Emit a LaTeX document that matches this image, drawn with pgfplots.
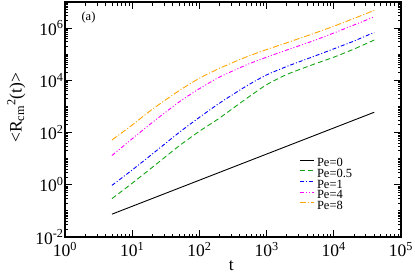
\documentclass[border=0pt]{standalone}
\usepackage{fontspec}
\setmainfont{Liberation Serif}
\usepackage{pgfplots}
\pgfplotsset{compat=1.18}
\usepackage{pgfplotstable}
\definecolor{cgreen}{RGB}{20,165,20}
\definecolor{cblue}{RGB}{0,0,255}
\definecolor{cmag}{RGB}{255,0,255}
\definecolor{corange}{RGB}{255,165,0}
\pgfplotstableread{
t      p0     p05     p1      p4      p8
5      0.075  0.295   0.95    13.2    52
10     0.15   1.15    3.7     58      195
20     0.3    4.7     15.2    245     787
50     0.75   31      101     1490    4040
100    1.5    112     382     4800    12000
200    3.0    363     1350    13400   29000
500    7.5    2000    6050    39000   79000
1000   15     6800    16100   77000   151000
2000   30     16800   34000   145000  275000
5000   75     41000   82000   330000  620000
10000  150    77000   161000  650000  1180000
20000  300    158000  320000  1320000 2350000
40000  600    350000  690000  2700000 4800000
}\datatable
\begin{document}
\begin{tikzpicture}
\useasboundingbox (-65pt,-40pt) rectangle (350pt,237pt);
\begin{axis}[
  scale only axis, width=336pt, height=235pt,
  xmode=log, ymode=log,
  xmin=1, xmax=1e5, ymin=1e-2, ymax=1e7,
  xtick={1,10,100,1000,10000,100000},
  xticklabels={10\textsuperscript{0},10\textsuperscript{1},10\textsuperscript{2},10\textsuperscript{3},10\textsuperscript{4},10\textsuperscript{5}},
  ytick={1e-2,1,1e2,1e4,1e6},
  yticklabels={10\textsuperscript{-2},10\textsuperscript{0},10\textsuperscript{2},10\textsuperscript{4},10\textsuperscript{6}},
  minor ytick={2e-2,3e-2,4e-2,5e-2,6e-2,7e-2,8e-2,9e-2,
    1e-1,2e-1,3e-1,4e-1,5e-1,6e-1,7e-1,8e-1,9e-1,
    2,3,4,5,6,7,8,9,10,20,30,40,50,60,70,80,90,
    200,300,400,500,600,700,800,900,1e3,2e3,3e3,4e3,5e3,6e3,7e3,8e3,9e3,
    2e4,3e4,4e4,5e4,6e4,7e4,8e4,9e4,1e5,2e5,3e5,4e5,5e5,6e5,7e5,8e5,9e5,
    2e6,3e6,4e6,5e6,6e6,7e6,8e6,9e6},
  tick align=inside,
  major tick length=7pt, minor tick length=3.5pt,
  every tick/.style={black, line width=0.8pt},
  axis line style={line width=1.1pt},
  ticklabel style={font=\fontsize{17.5}{20}\selectfont},
  xticklabel style={yshift=-2pt},
  yticklabel style={xshift=2pt},
  label style={font=\fontsize{17.5}{20}\selectfont},
  xlabel={t},
  ylabel={<R\textsubscript{cm}\textsuperscript{2}(t)>},
  xlabel style={at={(axis description cs:0.495,-0.12)}, anchor=center},
  ylabel style={at={(axis description cs:-0.145,0.55)}, anchor=center},
  legend style={draw=none, fill=none, at={(0.69,0.345)}, anchor=north west,
    font=\fontsize{12.5}{12.5}\selectfont, row sep=1pt,
    nodes={inner sep=0pt, text height=8.5pt, text depth=1.2pt}},
  legend cell align=left,
  legend image code/.code={\draw[#1] (0pt,3pt) -- (14pt,3pt);},
  every axis plot/.append style={smooth, tension=0.4},
]
\addplot[black, line width=0.9pt] table[x=t,y=p0] {\datatable};
\addlegendentry{\,Pe=0}
\addplot[cgreen, line width=0.9pt, dash pattern=on 5pt off 3pt] table[x=t,y=p05] {\datatable};
\addlegendentry{\,Pe=0.5}
\addplot[cblue, line width=0.9pt, dash pattern=on 4pt off 2pt on 1pt off 2pt] table[x=t,y=p1] {\datatable};
\addlegendentry{\,Pe=1}
\addplot[cmag, line width=0.9pt, dash pattern=on 4pt off 2pt on 1pt off 2pt on 1pt off 2pt] table[x=t,y=p4] {\datatable};
\addlegendentry{\,Pe=4}
\addplot[corange, line width=0.9pt, dash pattern=on 6pt off 2pt on 1pt off 2pt] table[x=t,y=p8] {\datatable};
\addlegendentry{\,Pe=8}
\node[font=\fontsize{12.5}{12.5}\selectfont] at (rel axis cs:0.07,0.935) {(a)};
\end{axis}
\end{tikzpicture}
\end{document}
